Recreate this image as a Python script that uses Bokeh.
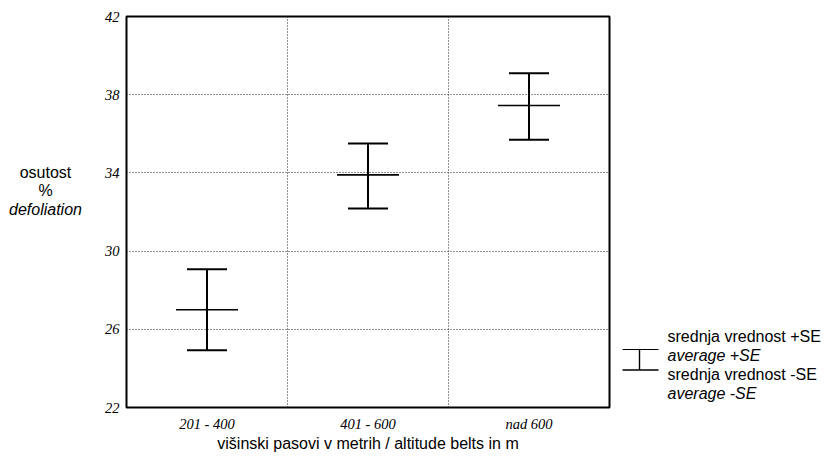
from bokeh.plotting import figure
from bokeh.layouts import row
from bokeh.models import (ColumnDataSource, Range1d, FactorRange, Whisker, TeeHead,
                          FixedTicker, Label)
from bokeh.embed import file_html
from bokeh.resources import INLINE

# ---- data ----
categories = ["201 - 400", "401 - 600", "nad 600"]
mean_vals = [27.0, 33.9, 37.45]
upper_vals = [29.07, 35.5, 39.1]
lower_vals = [24.93, 32.18, 35.7]
y_ticks = [22, 26, 30, 34, 38, 42]

x_title = "višinski pasovi v metrih / altitude belts in m"
y_title_lines = [("osutost", "normal"), ("%", "normal"), ("defoliation", "italic")]
legend_lines = [("srednja vrednost +SE", "normal"), ("average +SE", "italic"),
                ("srednja vrednost -SE", "normal"), ("average -SE", "italic")]

src = ColumnDataSource(dict(cat=categories, mean=mean_vals, upper=upper_vals, lower=lower_vals))

H = 458
LW, RW = 96, 209          # side panel widths
MAIN_W = 824 - LW - RW    # 519
FT, FB = 16, 51


def blank(width):
    # pixel-space helper panel whose frame lines up with the main chart's frame
    f = figure(width=width, height=H, x_range=Range1d(0, width), y_range=Range1d(H - FB, FT),
               output_backend="svg", toolbar_location=None, title=None,
               x_axis_location=None, y_axis_location=None,
               min_border_left=0, min_border_right=0,
               min_border_top=FT, min_border_bottom=FB)
    f.grid.visible = False
    f.outline_line_color = None
    f.background_fill_color = "white"
    f.border_fill_color = "white"
    return f


# ---- main chart ----
p = figure(x_range=FactorRange(factors=categories, range_padding=0),
           y_range=Range1d(22, 42),
           width=MAIN_W, height=H, output_backend="svg", toolbar_location=None,
           min_border_left=30, min_border_right=6, min_border_top=FT, min_border_bottom=FB)
p.background_fill_color = "white"
p.border_fill_color = "white"
p.outline_line_color = "black"
p.outline_line_width = 2

p.yaxis.ticker = FixedTicker(ticks=y_ticks)
for ax in (p.xaxis[0], p.yaxis[0]):
    ax.axis_line_color = None
    ax.major_tick_line_color = None
    ax.minor_tick_line_color = None
    ax.major_tick_out = 0
    ax.major_tick_in = 0
    ax.minor_tick_out = 0
    ax.minor_tick_in = 0
    ax.major_label_text_font = "Liberation Serif"
    ax.major_label_text_font_style = "italic"
    ax.major_label_text_font_size = "14.5px"
    ax.major_label_text_color = "black"
p.yaxis.major_label_standoff = 7
p.xaxis.major_label_standoff = 8
p.xaxis.axis_label = x_title
p.xaxis.axis_label_text_font = "Liberation Sans"
p.xaxis.axis_label_text_font_style = "normal"
p.xaxis.axis_label_text_font_size = "16px"
p.xaxis.axis_label_text_color = "black"
p.xaxis.axis_label_standoff = 0

p.ygrid.ticker = FixedTicker(ticks=y_ticks)
p.xgrid.ticker = FixedTicker(ticks=[1, 2])
for g in (p.xgrid[0], p.ygrid[0]):
    g.grid_line_color = "#222222"
    g.grid_line_dash = "1 2"
    g.grid_line_width = 1

w = Whisker(source=src, base="cat", upper="upper", lower="lower",
            line_color="black", line_width=2,
            upper_head=TeeHead(size=40, line_color="black", line_width=2),
            lower_head=TeeHead(size=40, line_color="black", line_width=2))
p.add_layout(w)
p.scatter(x="cat", y="mean", source=src, marker="dash", size=62,
          line_color="black", line_width=1.6)

# ---- left panel: y title ----
left = blank(LW)
for (txt, style), yy in zip(y_title_lines, [171.5, 190, 208.5]):
    left.add_layout(Label(x=45, y=yy, text=txt, text_align="center", text_baseline="middle",
                          text_font="Liberation Sans", text_font_style=style,
                          text_font_size="16px", text_color="black"))

# ---- right panel: legend ----
right = blank(RW)
ox = 824 - RW
for (txt, style), yy in zip(legend_lines, [336, 355, 374, 393]):
    right.add_layout(Label(x=667 - ox, y=yy, text=txt, text_align="left", text_baseline="middle",
                           text_font="Liberation Sans", text_font_style=style,
                           text_font_size="16px", text_color="black"))
right.segment(x0=[622 - ox, 622 - ox, 639 - ox], x1=[658 - ox, 658 - ox, 639 - ox],
              y0=[349, 369.5, 349], y1=[349, 369.5, 369.5],
              line_color="black", line_width=[1.2, 1.6, 1.4])

layout = row(left, p, right, spacing=0)
open("out.html", "w").write(file_html(layout, INLINE))
